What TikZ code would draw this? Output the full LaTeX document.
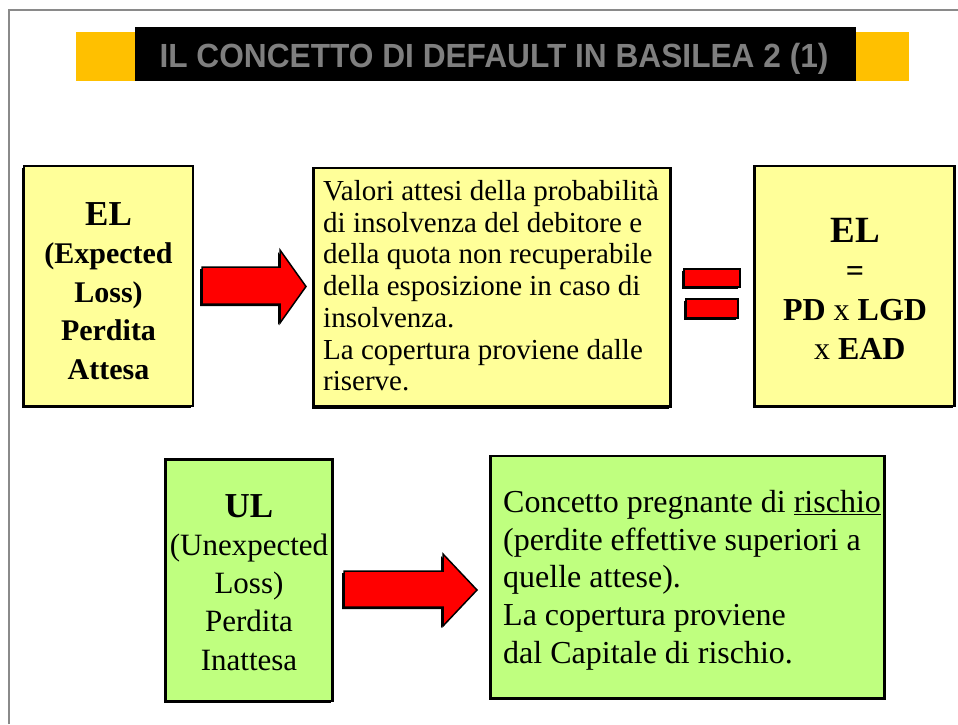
\documentclass[tikz,border=0pt]{standalone}
\usepackage{fontspec}
\setmainfont{Liberation Serif}
\newfontfamily\titlefont{Liberation Sans}
\usetikzlibrary{shadows}
\definecolor{boxyellow}{HTML}{FFFF99}
\definecolor{boxgreen}{HTML}{BFFF7F}
\definecolor{titleorange}{HTML}{FFC000}
\definecolor{titlegray}{HTML}{7F7F7F}
\definecolor{pagegray}{HTML}{8A8A8A}
\definecolor{arrowred}{HTML}{FF0000}
\tikzset{
  blackshadow/.style={drop shadow={shadow xshift=-2pt, shadow yshift=-2pt, fill=black, opacity=1}},
  card/.style={draw=black, line width=2.5pt, inner sep=0pt, blackshadow},
  yellowcard/.style={card, fill=boxyellow},
  greencard/.style={card, fill=boxgreen},
  blockarrow/.style={draw=black, line width=1.5pt, fill=arrowred, line join=miter, blackshadow},
  txt/.style={inner sep=0pt, text=black},
}
\begin{document}
\begin{tikzpicture}[x=1pt, y=-1pt]
\useasboundingbox (0,0) rectangle (958,724);
% page border
\draw[pagegray, line width=2pt] (8.5,724) -- (8.5,10) -- (958,10);
% title
\fill[titleorange] (76,32) rectangle (909,81);
\fill[black] (135,27) rectangle (856,81);
\node[txt, anchor=base, text=titlegray] (title) at (494,67)
  {\scalebox{0.945}[1]{\titlefont\bfseries\fontsize{33.5}{40}\selectfont IL CONCETTO DI DEFAULT IN BASILEA 2 (1)}};

% row 1
\node[yellowcard, minimum width=169pt, minimum height=240pt] (el) at (108.5,286) {};
\node[txt, anchor=north, align=center, font=\bfseries\fontsize{30}{38.5}\selectfont] (eltxt) at (108.5,202)
  {{\fontsize{35}{38.5}\selectfont EL}\\(Expected\\Loss)\\Perdita\\Attesa};

\node[yellowcard, minimum width=357pt, minimum height=238.5pt] (elmid) at (492,287.3) {};
\node[txt, anchor=north west, align=left, font=\fontsize{29}{31.7}\selectfont] (elmidtxt) at (323,180.2)
  {Valori attesi della probabilità\\di insolvenza del debitore e\\della quota non recuperabile\\della esposizione in caso di\\insolvenza.\\La copertura proviene dalle\\riserve.};

\node[yellowcard, minimum width=200pt, minimum height=240pt] (elform) at (854.5,286) {};
\node[txt, anchor=north, align=center, font=\fontsize{32}{39}\selectfont] (elformtxt) at (855,218.5)
  {{\bfseries\fontsize{37}{39}\selectfont EL}\\\textbf{=}\\\textbf{PD} x \textbf{LGD}\\\hspace*{0.3em}x \textbf{EAD}};

% arrow 1 and equals sign
\path[blockarrow] (202,267) -- (280,267) -- (280,250) -- (306,286.5) -- (280,323) -- (280,304) -- (202,304) -- cycle;
\path[blockarrow] (684,269) rectangle (740,287);
\path[blockarrow] (686,299) rectangle (738,318);

% row 2
\node[greencard, minimum width=167pt, minimum height=241.5pt] (ul) at (249,580) {};
\node[txt, anchor=north, align=center, font=\fontsize{31}{38.25}\selectfont] (ultxt) at (249,494)
  {{\bfseries\fontsize{35}{38.25}\selectfont UL}\\(Unexpected\\Loss)\\Perdita\\Inattesa};

\node[greencard, minimum width=394pt, minimum height=242.5pt] (ulmid) at (687.5,577) {};
\node[txt, anchor=north west, align=left, font=\fontsize{32}{37.75}\selectfont] (ulmidtxt) at (503,490)
  {Concetto pregnante di \underline{rischio}\\(perdite effettive superiori a\\quelle attese).\\La copertura proviene\\dal Capitale di rischio.};

\path[blockarrow] (344,571) -- (443,571) -- (443,554) -- (477,590) -- (443,626) -- (443,607) -- (344,607) -- cycle;
\end{tikzpicture}
\end{document}
